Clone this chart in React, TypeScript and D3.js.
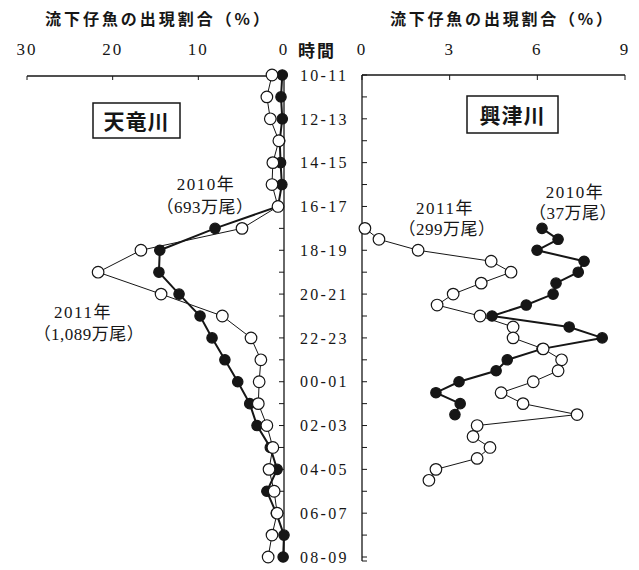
import * as d3 from 'd3';

// time slots (hours after 10:00), labels every 2 hours
const timeLabels = ['10-11', '12-13', '14-15', '16-17', '18-19', '20-21', '22-23', '00-01', '02-03', '04-05', '06-07', '08-09'];

// 天竜川 hourly values (%), 10-11 .. 08-09
const tenryu2010 = [0.2, 0.35, 0.2, 0.5, 0.4, 0.25, 0.7, 8.05, 14.5, 14.6, 12.25, 9.8, 8.4, 6.9, 5.4, 4.0, 3.15, 1.6, 0.8, 2.0, 0.9, 0, 0.1];
const tenryu2011 = [1.4, 2.0, 1.6, 0.6, 1.3, 1.4, 0.7, 4.9, 16.7, 21.7, 14.35, 7.2, 3.85, 2.7, 2.9, 3.0, 2.0, 1.3, 1.75, 1.15, 0.8, 1.4, 1.85];

// 興津川 half-hourly values (%), starting at 17:00
const okitsuStart = 7;
const okitsu2010 = [6.16, 6.71, 5.99, 7.6, 7.4, 6.64, 6.54, 5.62, 4.45, 7.09, 8.22, 6.16, 4.97, 4.59, 3.32, 2.53, 3.36, 3.18];
const okitsu2011 = [0.1, 0.58, 1.92, 4.42, 5.1, 4.08, 3.12, 2.57, 4.04, 5.17, 5.17, 6.2, 6.83, 6.71, 5.86, 4.76, 5.51, 7.36, 3.94, 3.8, 4.38, 3.94, 2.53, 2.29];

const leftTicks = [30, 20, 10, 0];
const rightTicks = [0, 3, 6, 9];

const SERIF = '"Liberation Serif", "DejaVu Serif", "Noto Sans CJK JP", serif';
const SANS = '"Noto Sans CJK JP", sans-serif';
const INK = '#161616';

export default function App() {
  const width = 639;
  const height = 570;

  const y = d3.scaleLinear().domain([0, 22]).range([75, 557]);
  const xL = d3.scaleLinear().domain([0, 30]).range([284, 27]);
  const xR = d3.scaleLinear().domain([0, 9]).range([362, 625]);
  const axisTop = y(0) + 1;
  const axisBottom = 561;

  const hours = d3.range(0, 23);
  const leftPts = (vals: number[]) => vals.map((v, i) => [xL(v), y(i)] as [number, number]);
  const rightPts = (vals: number[]) => vals.map((v, i) => [xR(v), y(okitsuStart + i * 0.5)] as [number, number]);

  const line = d3.line();

  const series = [
    { pts: leftPts(tenryu2010), filled: true },
    { pts: leftPts(tenryu2011), filled: false },
    { pts: rightPts(okitsu2010), filled: true },
    { pts: rightPts(okitsu2011), filled: false },
  ];

  return (
    <svg width={width} height={height} style={{ position: 'absolute', left: 0, top: 0, background: '#fff' }}>
      {/* titles */}
      <text x={157} y={25} textAnchor="middle" fontFamily={SANS} fontWeight={700} fontSize={16} textLength={224} lengthAdjust="spacing" fill={INK}>流下仔魚の出現割合（%）</text>
      <text x={501} y={25} textAnchor="middle" fontFamily={SANS} fontWeight={700} fontSize={16} textLength={222} lengthAdjust="spacing" fill={INK}>流下仔魚の出現割合（%）</text>

      {/* top axes */}
      <line x1={xL(30)} x2={xL(0)} y1={axisTop} y2={axisTop} stroke={INK} strokeWidth={1.3} />
      {leftTicks.map(t => (
        <g key={'lt' + t}>
          <line x1={xL(t)} x2={xL(t)} y1={axisTop} y2={axisTop + 4} stroke={INK} strokeWidth={1} />
          <text x={xL(t)} y={55} textAnchor="middle" fontFamily={SERIF} fontSize={17} letterSpacing={2} fill={INK}>{t}</text>
        </g>
      ))}
      <line x1={xR(0)} x2={xR(9)} y1={axisTop - 1} y2={axisTop - 1} stroke={INK} strokeWidth={1.3} />
      {rightTicks.map(t => (
        <g key={'rt' + t}>
          <line x1={xR(t)} x2={xR(t)} y1={axisTop - 1} y2={axisTop + 4} stroke={INK} strokeWidth={1} />
          <text x={xR(t)} y={55} textAnchor="middle" fontFamily={SERIF} fontSize={17} letterSpacing={2} fill={INK}>{t}</text>
        </g>
      ))}

      {/* vertical time axes */}
      <line x1={xL(0)} x2={xL(0)} y1={axisTop} y2={axisBottom} stroke={INK} strokeWidth={1.3} />
      <line x1={xR(0)} x2={xR(0)} y1={axisTop - 1} y2={axisBottom} stroke={INK} strokeWidth={1.3} />
      {hours.map(h => (
        <g key={'h' + h}>
          <line x1={xL(0) - 5} x2={xL(0)} y1={y(h)} y2={y(h)} stroke={INK} strokeWidth={1} />
          <line x1={xR(0)} x2={xR(0) + 5} y1={y(h)} y2={y(h)} stroke={INK} strokeWidth={1} />
        </g>
      ))}
      <line x1={xR(0)} x2={xR(0) + 5} y1={axisBottom} y2={axisBottom} stroke={INK} strokeWidth={1} />

      <text x={298} y={57} fontFamily={SERIF} fontWeight={700} fontSize={17} letterSpacing={2} fill={INK}>時間</text>
      {timeLabels.map((lab, i) => (
        <text key={lab} x={300} y={y(i * 2)} dy="0.36em" fontFamily={SERIF} fontSize={16} letterSpacing={2.3} fill={INK}>{lab}</text>
      ))}

      {/* river name boxes */}
      <rect x={93} y={103} width={87} height={35} fill="#fff" stroke={INK} strokeWidth={1.5} />
      <text x={136.5} y={121} dy="0.36em" textAnchor="middle" fontFamily={SANS} fontWeight={700} fontSize={21} letterSpacing={1} fill={INK}>天竜川</text>
      <rect x={467} y={96} width={91} height={37} fill="#fff" stroke={INK} strokeWidth={1.5} />
      <text x={512.5} y={115} dy="0.36em" textAnchor="middle" fontFamily={SANS} fontWeight={700} fontSize={21} letterSpacing={1} fill={INK}>興津川</text>

      {/* series */}
      {series.map((s, k) => (
        <g key={'s' + k}>
          <path d={line(s.pts) ?? ''} fill="none" stroke={INK} strokeWidth={s.filled ? 2 : 1} />
          {s.pts.map(([px, py], i) => (
            <circle key={i} cx={px} cy={py} r={s.filled ? 5.2 : 5.8} fill={s.filled ? INK : '#fff'} stroke={INK} strokeWidth={1.2} />
          ))}
        </g>
      ))}

      {/* annotations */}
      <text x={206} y={190} textAnchor="middle" fontFamily={SERIF} fontSize={17} letterSpacing={1.5} fill={INK}>2010年</text>
      <text x={205} y={213} textAnchor="middle" fontFamily={SERIF} fontSize={17} letterSpacing={0.5} fill={INK}>（693万尾）</text>
      <text x={83} y={318} textAnchor="middle" fontFamily={SERIF} fontSize={17} letterSpacing={1.5} fill={INK}>2011年</text>
      <text x={89} y={340} textAnchor="middle" fontFamily={SERIF} fontSize={17} letterSpacing={0.5} fill={INK}>（1,089万尾）</text>
      <text x={445} y={214} textAnchor="middle" fontFamily={SERIF} fontSize={17} letterSpacing={1.5} fill={INK}>2011年</text>
      <text x={447} y={235} textAnchor="middle" fontFamily={SERIF} fontSize={17} letterSpacing={0.5} fill={INK}>（299万尾）</text>
      <text x={575} y={198} textAnchor="middle" fontFamily={SERIF} fontSize={17} letterSpacing={1.5} fill={INK}>2010年</text>
      <text x={573} y={219} textAnchor="middle" fontFamily={SERIF} fontSize={17} letterSpacing={0.5} fill={INK}>（37万尾）</text>
    </svg>
  );
}
